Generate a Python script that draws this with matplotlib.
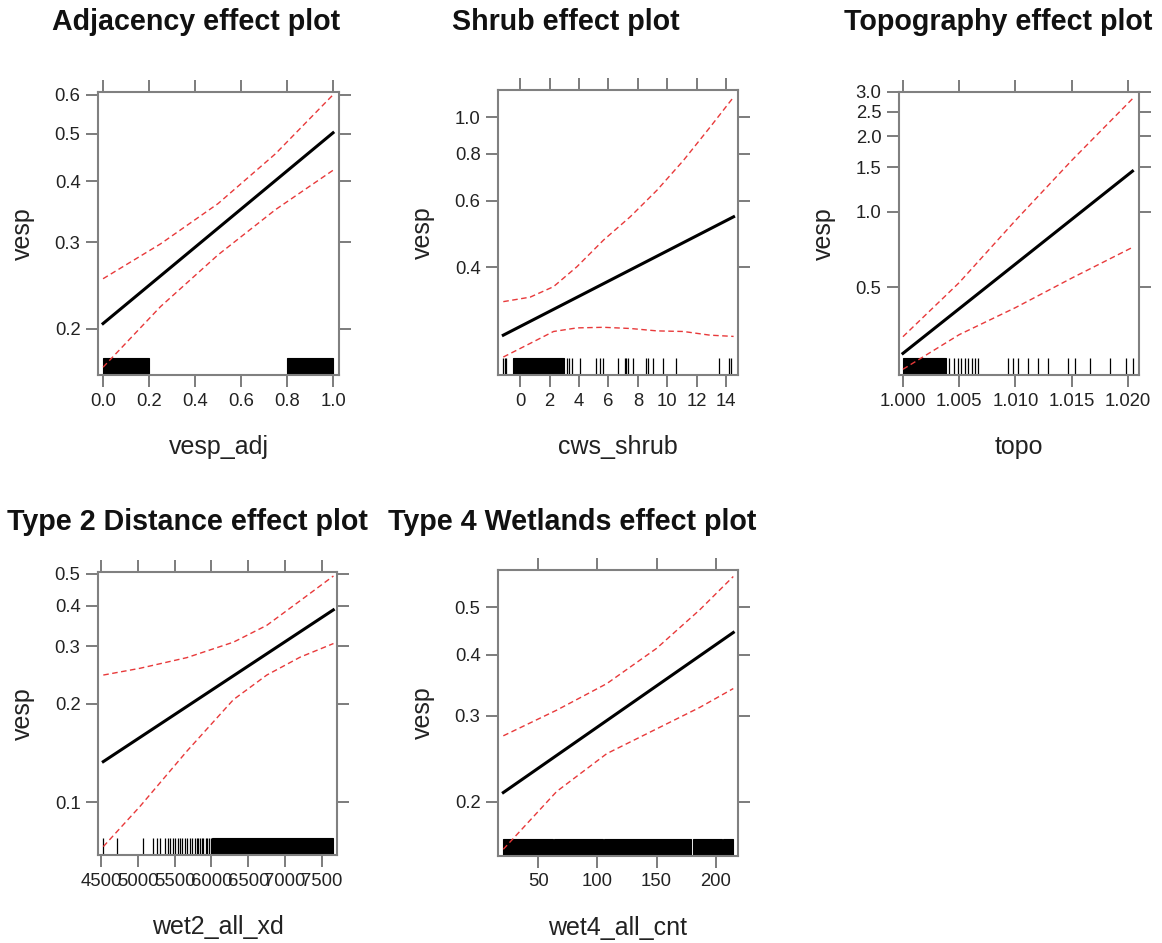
import matplotlib
matplotlib.use('Agg')
import matplotlib.pyplot as plt
from matplotlib.ticker import NullLocator

# ---- panel 1: Adjacency (vesp_adj) ----
adj_x = [0.0, 1.0]
adj_fit = [0.205, 0.502]
adj_ci_x = [0.0, 0.25, 0.5, 0.75, 1.0]
adj_upper = [0.253, 0.298, 0.36, 0.455, 0.60]
adj_lower = [0.167, 0.222, 0.283, 0.35, 0.421]
adj_rug = []
adj_rug_blocks = [(0.0, 0.2), (0.8, 1.0)]

# ---- panel 2: Shrub (cws_shrub) ----
shrub_x = [-1.14, 14.5]
shrub_fit = [0.264, 0.544]
shrub_ci_x = [-1.14, 0.68, 2.27, 3.86, 5.67, 7.48, 9.3, 11.1, 12.9, 14.5]
shrub_upper = [0.324, 0.333, 0.355, 0.401, 0.472, 0.544, 0.64, 0.768, 0.94, 1.13]
shrub_lower = [0.231, 0.251, 0.27, 0.276, 0.277, 0.275, 0.271, 0.27, 0.264, 0.262]
shrub_rug = [-1.15, -1.05, -0.95, 3.17, 3.3, 3.5, 4.04, 5.17, 5.4, 5.62, 6.64, 7.1, 7.2,
             7.3, 7.65, 8.56, 8.67, 9.0, 9.7, 10.6, 13.5, 14.2, 14.3]
shrub_rug_blocks = [(-0.45, 2.95)]

# ---- panel 3: Topography (topo) ----
topo_x = [1.0, 1.0204]
topo_fit = [0.272, 1.45]
topo_ci_x = [1.0, 1.005, 1.010, 1.015, 1.0204]
topo_upper = [0.317, 0.521, 0.922, 1.60, 2.82]
topo_lower = [0.235, 0.323, 0.414, 0.543, 0.72]
topo_rug = [1.0041, 1.0045, 1.0049, 1.0052, 1.0055, 1.0058, 1.0061, 1.0064, 1.0067,
            1.00935, 1.0098, 1.01024, 1.01113, 1.01202, 1.0129, 1.01468, 1.01528,
            1.0166, 1.01838, 1.01986, 1.02045]
topo_rug_blocks = [(1.0, 1.0038)]

# ---- panel 4: Type 2 distance (wet2_all_xd) ----
dist_x = [4531, 7654]
dist_fit = [0.133, 0.388]
dist_ci_x = [4531, 5030, 5664, 6298, 6751, 7204, 7656]
dist_upper = [0.245, 0.257, 0.277, 0.309, 0.348, 0.414, 0.493]
dist_lower = [0.073, 0.097, 0.143, 0.206, 0.245, 0.278, 0.306]
dist_rug = [4531, 4712, 5075, 5211, 5257, 5302, 5370, 5415, 5440, 5480, 5506, 5551,
            5575, 5596, 5640, 5665, 5710, 5730, 5780, 5800, 5820, 5850, 5870, 5890,
            5920, 5940, 5960, 5990]
dist_rug_blocks = [(6010, 7656)]

# ---- panel 5: Type 4 wetlands (wet4_all_cnt) ----
wet_x = [20.4, 214.9]
wet_fit = [0.209, 0.444]
wet_ci_x = [20.4, 65.5, 107.9, 150, 186.5, 214.9]
wet_upper = [0.273, 0.308, 0.349, 0.412, 0.494, 0.578]
wet_lower = [0.160, 0.21, 0.251, 0.282, 0.312, 0.341]
wet_rug = []
wet_rug_blocks = [(20, 62), (63.5, 104.5), (105.5, 179), (180.5, 205), (206, 215)]

W, H = 1162, 943
plt.rcParams['font.family'] = ['Liberation Sans', 'DejaVu Sans']
fig = plt.figure(figsize=(W / 100, H / 100), dpi=100)


def rect(l, t, r, b):
    return [l / W, 1 - b / H, (r - l) / W, (b - t) / H]


def panel(box, title, title_xy, xlabel, x, fit, ci_x, upper, lower, rug, blocks,
          xlim, ylim, xticks, xfmt, yticks):
    ax = fig.add_axes(rect(*box))
    ax.set_yscale('log')
    ax.set_xlim(*xlim)
    ax.set_ylim(*ylim)

    # rug along the bottom
    for a, b in blocks:
        ax.axvspan(a, b, ymin=0, ymax=0.06, color='black', lw=0.8, zorder=2)
    if rug:
        ax.vlines(rug, 0, 0.06, transform=ax.get_xaxis_transform(),
                  colors='black', lw=0.9, zorder=2)

    ax.plot(x, fit, color='black', lw=2.2, zorder=4)
    ax.plot(ci_x, upper, color='#e8393a', lw=1.0, dashes=(4, 2.5), zorder=3)
    ax.plot(ci_x, lower, color='#e8393a', lw=1.0, dashes=(4, 2.5), zorder=3)

    ax.set_xticks(xticks)
    ax.set_xticklabels([xfmt % v for v in xticks])
    ax.set_yticks(yticks)
    ax.set_yticklabels(['%.1f' % v for v in yticks])
    ax.yaxis.set_minor_locator(NullLocator())
    ax.xaxis.set_minor_locator(NullLocator())
    ax.tick_params(direction='out', length=8.6, width=1.2, color='#666666',
                   top=True, right=True, labeltop=False, labelright=False,
                   labelsize=13.3, labelcolor='#222222', pad=4)
    for s in ax.spines.values():
        s.set_color('#808080')
        s.set_linewidth(1.5)

    bw = box[2] - box[0]
    bh = box[3] - box[1]
    ax.text(-75 / bw, 0.5, 'vesp', rotation=90, ha='center', va='center',
            fontsize=18, color='#222222', transform=ax.transAxes)
    ax.text(0.5, -72 / bh, xlabel, ha='center', va='center',
            fontsize=18, color='#222222', transform=ax.transAxes)
    fig.text(title_xy[0] / W, 1 - title_xy[1] / H, title, ha='center', va='center',
             fontsize=20.6, fontweight='bold', color='#111111')
    return ax


panel((98, 92, 339, 375), 'Adjacency effect plot', (196, 22), 'vesp_adj',
      adj_x, adj_fit, adj_ci_x, adj_upper, adj_lower, adj_rug, adj_rug_blocks,
      (-0.022, 1.026), (0.161, 0.608), [0.0, 0.2, 0.4, 0.6, 0.8, 1.0], '%.1f',
      [0.2, 0.3, 0.4, 0.5, 0.6])

panel((498, 90, 738, 375), 'Shrub effect plot', (566, 22), 'cws_shrub',
      shrub_x, shrub_fit, shrub_ci_x, shrub_upper, shrub_lower, shrub_rug, shrub_rug_blocks,
      (-1.5, 14.8), (0.207, 1.18), [0, 2, 4, 6, 8, 10, 12, 14], '%d',
      [0.4, 0.6, 0.8, 1.0])

panel((899, 92, 1139, 375), 'Topography effect plot', (998, 22), 'topo',
      topo_x, topo_fit, topo_ci_x, topo_upper, topo_lower, topo_rug, topo_rug_blocks,
      (0.99965, 1.02098), (0.223, 3.0), [1.000, 1.005, 1.010, 1.015, 1.020], '%.3f',
      [0.5, 1.0, 1.5, 2.0, 2.5, 3.0])

panel((98, 572, 337, 855), 'Type 2 Distance effect plot', (187, 522), 'wet2_all_xd',
      dist_x, dist_fit, dist_ci_x, dist_upper, dist_lower, dist_rug, dist_rug_blocks,
      (4459, 7704), (0.0688, 0.507), [4500, 5000, 5500, 6000, 6500, 7000, 7500], '%d',
      [0.1, 0.2, 0.3, 0.4, 0.5])

panel((498, 570, 738, 856), 'Type 4 Wetlands effect plot', (572, 522), 'wet4_all_cnt',
      wet_x, wet_fit, wet_ci_x, wet_upper, wet_lower, wet_rug, wet_rug_blocks,
      (15.9, 218.9), (0.155, 0.596), [50, 100, 150, 200], '%d',
      [0.2, 0.3, 0.4, 0.5])

fig.savefig('out.png', dpi=100)
